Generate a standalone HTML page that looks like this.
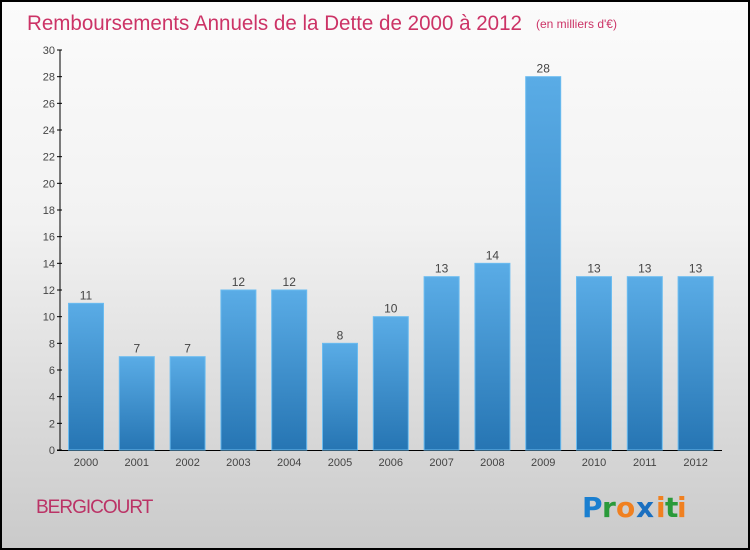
<!DOCTYPE html>
<html><head><meta charset="utf-8"><style>
body{margin:0;width:750px;height:550px;overflow:hidden;font-family:"Liberation Sans",sans-serif}
#wrap{position:absolute;left:0;top:0;width:746px;height:546px;border:2px solid #000;background:linear-gradient(#fbfbfb 0%,#f2f2f2 40%,#cacaca 100%)}
</style></head><body>
<div id="wrap">
<svg width="746" height="546" viewBox="2 2 746 546" style="position:absolute;left:0;top:0" id="svg">
<defs><linearGradient id="bg" x1="0" y1="0" x2="0" y2="1"><stop offset="0" stop-color="#5aace6"/><stop offset="1" stop-color="#2675b3"/></linearGradient></defs>
<text x="27" y="30" font-size="21" fill="#cc3366" textLength="495" lengthAdjust="spacingAndGlyphs">Remboursements Annuels de la Dette de 2000 à 2012</text>
<text x="536" y="28" font-size="12" fill="#cc3366">(en milliers d'€)</text>
<g id="axes"></g><g id="bars"></g>
<text x="36" y="513" font-size="19" fill="#bb3366" letter-spacing="-1">BERGICOURT</text>
<g font-size="28" font-weight="bold" font-family="DejaVu Sans, sans-serif">
<text x="582" y="517" fill="#1a7fd0">P</text><text x="602" y="517" fill="#2a9a3a">r</text><text x="616" y="517" fill="#f08020">o</text><text x="636" y="517" fill="#1a6fc0">x</text><text x="656" y="517" fill="#f08020">i</text><text x="665" y="517" fill="#2a9a3a">t</text><text x="677" y="517" fill="#f08020">i</text></g>
</svg></div>
<script>
const years=["2000","2001","2002","2003","2004","2005","2006","2007","2008","2009","2010","2011","2012"];
const values=[11,7,7,12,12,8,10,13,14,28,13,13,13];
const yTicks=[0,2,4,6,8,10,12,14,16,18,20,22,24,26,28,30];
const NS="http://www.w3.org/2000/svg";
const y=v=>450-v*400/30, x=i=>86+i*50.8;
function mk(t,a,p,txt){const e=document.createElementNS(NS,t);for(const k in a)e.setAttribute(k,a[k]);if(txt!=null)e.textContent=txt;p.appendChild(e);return e;}
const ax=document.getElementById('axes'),bs=document.getElementById('bars');
let l=mk('line',{x1:60,y1:50,x2:60,y2:451,stroke:'#000'},ax);


l=mk('line',{x1:57,y1:450.5,x2:722,y2:450.5,stroke:'#000'},ax);


yTicks.forEach(v=>{
 mk('line',{x1:57,x2:62,y1:y(v),y2:y(v),stroke:'#000'},ax);
 const t=mk('text',{x:55,y:y(v)+4,'text-anchor':'end','font-size':11,fill:'#444'},ax,v);
 
 
});
years.forEach((yr,i)=>{
 const v=values[i];
 const r=mk('rect',{x:x(i)-17.5,y:y(v),width:35,height:y(0)-y(v),fill:'url(#bg)',stroke:'#6bbcf0','stroke-width':1},bs);
 
 
 const t=mk('text',{x:x(i),y:y(v)-4,'text-anchor':'middle','font-size':12,fill:'#444'},bs,v);
 
 
 const xt=mk('text',{x:x(i),y:466,'text-anchor':'middle','font-size':11,fill:'#444'},bs,yr);
 
 
});
</script></body></html>
